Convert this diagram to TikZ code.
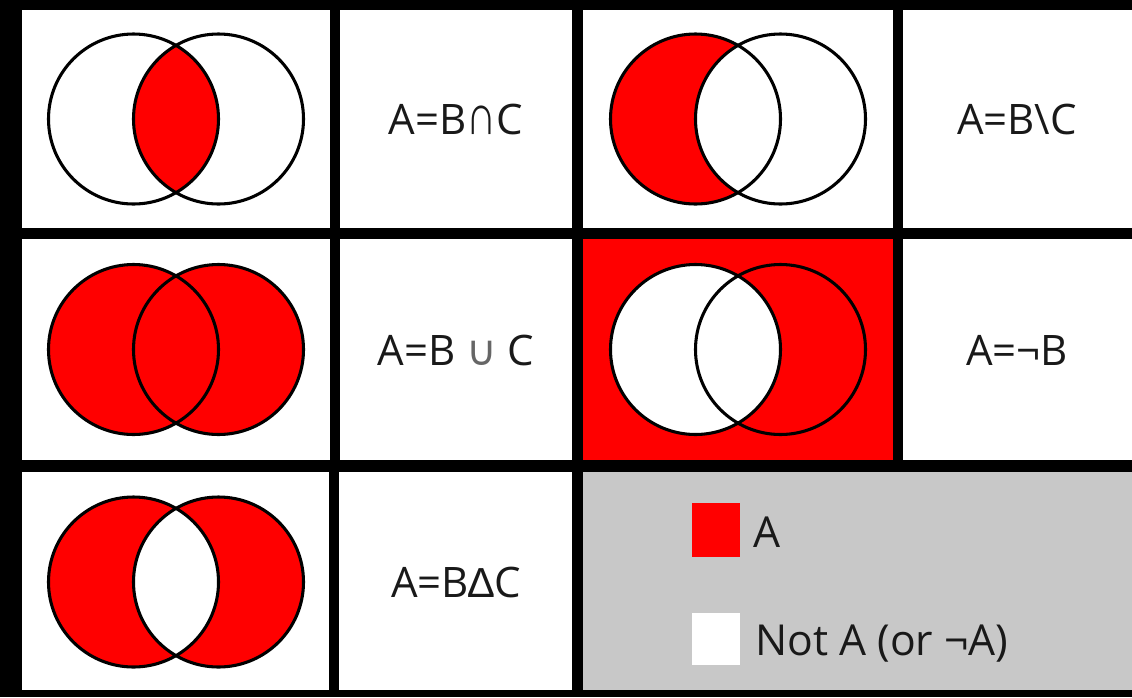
\documentclass[tikz,border=0pt]{standalone}
\usepackage{fontspec}
\setmainfont{Open Sans}
\newfontfamily\symf{DejaVu Sans}
\newfontfamily\symg{Liberation Sans}
\definecolor{vred}{RGB}{255,0,0}
\definecolor{lgray}{RGB}{200,200,200}
\begin{document}
\begin{tikzpicture}[x=0.75pt,y=-0.75pt]
\tikzset{
  cellbox/.style={fill=white},
  venn/.style={draw=black, line width=2.3pt},
  lbl/.style={font=\fontsize{31.5}{36}\selectfont, text=black!90, inner sep=0pt, anchor=base},
  leg/.style={font=\fontsize{32}{38}\selectfont, text=black!90, inner sep=0pt, anchor=base west},
}
\def\R{63.75pt}
% background frame
\fill[black] (0,0) rectangle (1132,697);
% row 1
\fill[cellbox] (22,10) rectangle (330,228);
\fill[cellbox] (340,10) rectangle (572,228);
\fill[cellbox] (583,10) rectangle (893,228);
\fill[cellbox] (903,10) rectangle (1132,228);
% row 2
\fill[cellbox] (22,239) rectangle (330,460);
\fill[cellbox] (340,239) rectangle (572,460);
\fill[vred] (583,239) rectangle (893,460);
\fill[cellbox] (903,239) rectangle (1132,460);
% row 3
\fill[cellbox] (22,472) rectangle (329,690);
\fill[cellbox] (339,472) rectangle (572,690);
\fill[lgray] (583,472) rectangle (1132,690);

% --- intersection (cell 1,1)
\begin{scope}
  \clip (133.5,119) circle[radius=\R];
  \fill[vred] (218.5,119) circle[radius=\R];
\end{scope}
\draw[venn] (133.5,119) circle[radius=\R] (218.5,119) circle[radius=\R];

% --- difference B\C (cell 1,3)
\fill[vred] (695.5,119) circle[radius=\R];
\begin{scope}
  \clip (695.5,119) circle[radius=\R];
  \fill[white] (780.5,119) circle[radius=\R];
\end{scope}
\draw[venn] (695.5,119) circle[radius=\R] (780.5,119) circle[radius=\R];

% --- union (cell 2,1)
\fill[vred] (133.5,349.5) circle[radius=\R] (218.5,349.5) circle[radius=\R];
\draw[venn] (133.5,349.5) circle[radius=\R] (218.5,349.5) circle[radius=\R];

% --- not B (cell 2,3)
\fill[white] (695.5,349.5) circle[radius=\R];
\draw[venn] (695.5,349.5) circle[radius=\R] (780.5,349.5) circle[radius=\R];

% --- symmetric difference (cell 3,1)
\fill[vred, even odd rule] (133.5,582) circle[radius=\R] (218.5,582) circle[radius=\R];
\draw[venn] (133.5,582) circle[radius=\R] (218.5,582) circle[radius=\R];

% --- labels
\node[lbl] (t1) at (456,134) {A=B{\symg\scalebox{1}[1.35]{∩}}C};
\node[lbl] (t2) at (1017,134) {A=B\textbackslash C};
\node[lbl] (t3) at (456,365) {A=B {\symf\color{black!60}∪} C};
\node[lbl] (t4) at (1017,365) {A=¬B};
\node[lbl] (t5) at (456,597) {A=B{\symg ∆}C};

% --- legend
\fill[vred] (692,503) rectangle (740,557);
\fill[white] (692,613) rectangle (740,665);
\node[leg] (la) at (753,547) {A};
\node[leg] (lna) at (755,655) {Not A (or ¬A)};
\end{tikzpicture}
\end{document}
